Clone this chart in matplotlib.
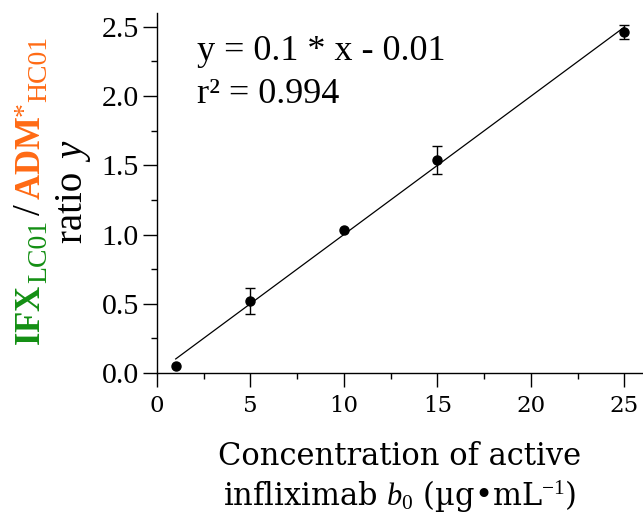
import matplotlib
matplotlib.use("Agg")
import matplotlib.pyplot as plt
from matplotlib.ticker import MultipleLocator
import numpy as np

# ----------------- Data -----------------
conc = [1, 5, 10, 15, 25]              # active infliximab, ug/mL
ratio = [0.05, 0.52, 1.03, 1.54, 2.46]  # ratio y
err = [0.0, 0.095, 0.0, 0.10, 0.05]
xticks = [0, 5, 10, 15, 20, 25]
yticks = [0.0, 0.5, 1.0, 1.5, 2.0, 2.5]

GREEN = "#138f13"
ORANGE = "#ff6a14"

plt.rcParams["mathtext.fontset"] = "custom"
plt.rcParams["mathtext.rm"] = "Liberation Serif"
plt.rcParams["mathtext.bf"] = "Liberation Serif:bold"
plt.rcParams["mathtext.it"] = "Liberation Serif:italic"

W, H = 643, 514
fig = plt.figure(figsize=(W / 100, H / 100), dpi=100)
ax = fig.add_axes([157 / W, 1 - 373 / H, 486 / W, 360 / H])

# ----------------- Points, errors, fit -----------------
x = np.array(conc)
y = np.array(ratio)
e = np.array(err)
m = e > 0
ax.errorbar(x[m], y[m], yerr=e[m], fmt="none", ecolor="black",
            elinewidth=1.0, capsize=3.5, capthick=1.0)
ax.plot(x, y, "o", color="black", markersize=6.5)

slope, icept = np.polyfit(x, y, 1)
xf = np.array([x.min(), x.max()])
ax.plot(xf, slope * xf + icept, color="black", linewidth=0.9)

# ----------------- Axes -----------------
ax.set_xlim(0, 26)
ax.set_ylim(0, 2.6)
ax.set_xticks(xticks)
ax.set_yticks(yticks)
ax.set_yticklabels([f"{v:.1f}" for v in yticks], family="Liberation Serif", fontsize=21.5)
ax.set_xticklabels([str(v) for v in xticks], family="DejaVu Serif", fontsize=16.5)
ax.xaxis.set_minor_locator(MultipleLocator(2.5))
ax.yaxis.set_minor_locator(MultipleLocator(0.25))
ax.tick_params(which="major", direction="out", length=10, width=1.0)
ax.tick_params(which="minor", direction="out", length=4, width=1.0)
ax.tick_params(axis="y", pad=3)
ax.tick_params(axis="x", pad=6)
for s in ["top", "right"]:
    ax.spines[s].set_visible(False)
for s in ["left", "bottom"]:
    ax.spines[s].set_linewidth(1.0)

ax.set_xlabel("Concentration of active\ninfliximab $b_0$ (µg•mL$^{-1}$)",
              family="DejaVu Serif", fontsize=22, linespacing=1.25, labelpad=17)

# equation
ax.text(40 / 486, (373 - 60) / 360, "y = 0.1 * x - 0.01", transform=ax.transAxes,
        family="Liberation Serif", fontsize=26, va="baseline", ha="left")
ax.text(40 / 486, (373 - 103) / 360, "r² = 0.994", transform=ax.transAxes,
        family="Liberation Serif", fontsize=26, va="baseline", ha="left")

# ----------------- Rotated, multi-coloured y label -----------------
renderer = fig.canvas.get_renderer()


def vertical_label(pieces, center_px):
    # pieces: (text, colour, size, baseline x in px, gap before)
    placed = []
    for s, c, size, xb, gap in pieces:
        t = fig.text(0, 0, s, color=c, fontsize=size,
                     rotation=90, rotation_mode="anchor", ha="left",
                     va="baseline", family="Liberation Serif")
        L = t.get_window_extent(renderer).height
        placed.append((t, xb, gap, L))
    total = sum(g + L for _, _, g, L in placed)
    pos = center_px - total / 2
    for t, xb, g, L in placed:
        pos += g
        t.set_position((xb / W, pos / H))
        pos += L


vertical_label([(r"$\mathbf{IFX}$", GREEN, 25, 40, 0),
                ("LC01", GREEN, 20, 46, 1),
                ("/", "black", 28, 40, 5),
                (r"$\mathbf{ADM}$", ORANGE, 25, 40, 4),
                ("*", ORANGE, 20, 32, 0),
                ("HC01", ORANGE, 20, 46, 0)],
               H - 191)
vertical_label([("ratio ", "black", 28, 82, 0),
                (r"$y$", "black", 28, 82, 0)],
               H - 191)

fig.savefig("out.png", dpi=100)
